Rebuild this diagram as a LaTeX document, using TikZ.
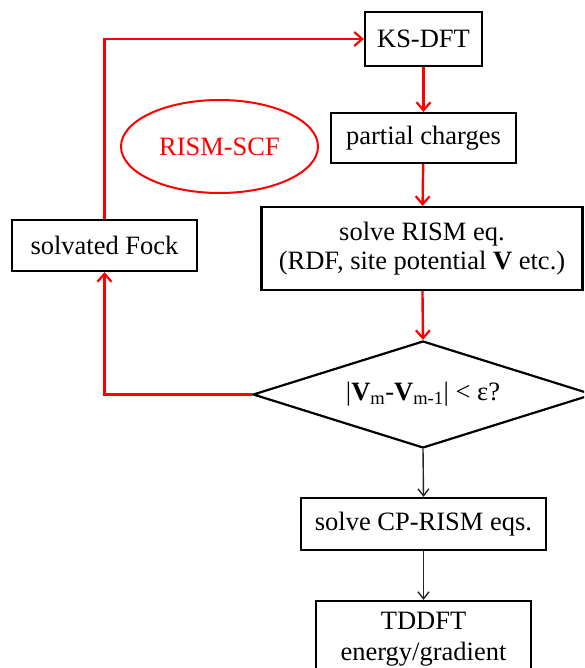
\documentclass[tikz,border=0pt]{standalone}
\usepackage{fontspec}
\setmainfont{Liberation Serif}
\usetikzlibrary{arrows.meta,shapes.geometric}
\begin{document}
\begin{tikzpicture}[x=1pt,y=-1pt,
  every node/.style={font=\fontsize{26.5}{29}\selectfont, inner sep=0pt},
  box/.style={draw=black, line width=2.2pt, rectangle, align=center},
  redline/.style={draw=red, line width=2.4pt},
  redarrow/.style={redline, -{Straight Barb[length=8pt,width=14pt,line width=2.2pt]}},
  blkarrow/.style={draw=black!85, line width=1.4pt, -{Straight Barb[length=7pt,width=11pt,line width=1.4pt]}}]
\clip (0,0) rectangle (584,668);
\node[box, minimum width=117pt, minimum height=54pt] (ks) at (423.5,39) {KS-DFT};
\node[box, minimum width=185pt, minimum height=50pt] (pc) at (423.5,138) {partial charges};
\node[box, minimum width=321pt, minimum height=83pt] (rism) at (422,248.5) {solve RISM eq.\\(RDF, site potential \textbf{V} etc.)};
\node[box, minimum width=185pt, minimum height=51pt] (fock) at (104.5,245.5) {solvated Fock};
\node[draw=red, line width=2pt, ellipse, minimum width=197pt, minimum height=93pt, text=red] (scf) at (219.5,146.5) {RISM-SCF};
\node[draw=black, line width=2.2pt, diamond, aspect=3.18, minimum width=340pt, minimum height=107pt] (dia) at (423,394.5) {|\textbf{V}\textsubscript{m}-\textbf{V}\textsubscript{m-1}| < ε?};
\node[box, minimum width=245pt, minimum height=52pt] (cp) at (423.5,524) {solve CP-RISM eqs.};
\node[box, minimum width=215pt, minimum height=75.6pt, font=\fontsize{26.5}{31}\selectfont] (td) at (423.5,638.8) {TDDFT\\energy/gradient};
\draw[redarrow] (ks) -- (pc);
\draw[redarrow] (pc) -- (rism);
\draw[redarrow] (rism) -- (dia.north);
\draw[redarrow] (dia.west) -| (fock.south);
\draw[redarrow] (fock.north) |- (ks.west);
\draw[blkarrow] (dia.south) -- (cp.north);
\draw[blkarrow] (cp.south) -- (td.north);
\end{tikzpicture}
\end{document}
